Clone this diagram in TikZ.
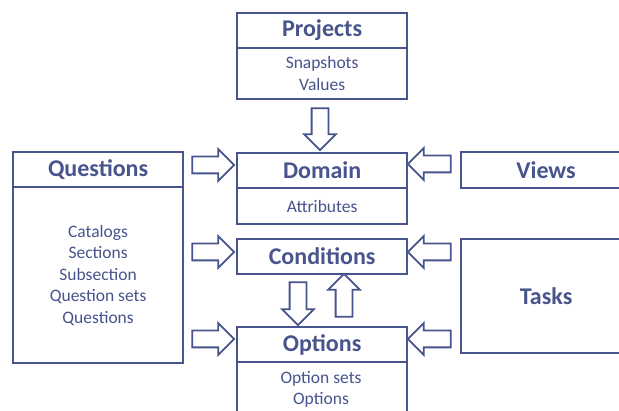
\documentclass[tikz,border=0pt]{standalone}
\usepackage{fontspec}
\setmainfont{Carlito}
\usetikzlibrary{shapes.arrows}
\definecolor{main}{RGB}{72,84,140}

\tikzset{
  box/.style={draw=main, line width=2.2pt, fill=white, text=main, inner sep=0pt,
    minimum width=170pt, anchor=north west},
  title/.style={box, font=\fontsize{24}{26}\selectfont\bfseries},
  body/.style={box, font=\fontsize{17.5}{21.5}\selectfont, align=center},
  blockarrow/.style={single arrow, draw=main, line width=1.8pt, fill=white,
    inner xsep=0pt, inner ysep=7.5pt, single arrow head extend=7.5pt,
    single arrow tip angle=90},
}

\begin{document}
\begin{tikzpicture}[x=1pt, y=-1pt]
\clip (0,0) rectangle (619,411);
\fill[white] (0,0) rectangle (619,411);

% Projects
\node[title, minimum height=35pt] (projT) at (236,12) {Projects};
\node[body, minimum height=51pt] (projB) at (236,47) {Snapshots\\Values};

% Domain
\node[title, minimum height=35pt] (domT) at (236,152) {Domain};
\node[body, minimum height=36pt] (domB) at (236,187) {Attributes};

% Conditions
\node[title, minimum height=35pt] (cond) at (236,238) {Conditions};

% Options
\node[title, minimum height=35pt] (optT) at (236,326) {Options};
\node[body, minimum height=60pt] (optB) at (236,361) {};
\node[text=main, font=\fontsize{17.5}{21}\selectfont, align=center, anchor=north]
  (optL) at (321,368) {Option sets\\Options};

% Questions
\node[title, minimum height=35pt] (qT) at (12,151) {Questions};
\node[body, minimum height=176pt] (qB) at (12,186) {Catalogs\\Sections\\Subsection\\Question sets\\Questions};

% Views and Tasks
\node[title, minimum height=36pt] (views) at (460,151) {Views};
\node[title, minimum height=114pt] (tasks) at (460,238) {Tasks};

% Block arrows
\node[blockarrow, minimum height=42pt, rotate=-90] (aPD) at (320,125) {};
\node[blockarrow, minimum height=42pt] (aQD) at (209,165) {};
\node[blockarrow, minimum height=42pt] (aQC) at (209,252) {};
\node[blockarrow, minimum height=42pt] (aQO) at (209,339) {};
\node[blockarrow, minimum height=43pt, rotate=180] (aVD) at (433.5,164) {};
\node[blockarrow, minimum height=43pt, rotate=180] (aTC) at (433.5,252) {};
\node[blockarrow, minimum height=43pt, rotate=180] (aTO) at (433.5,339) {};
\node[blockarrow, minimum height=43pt, rotate=-90] (aCO) at (298,299.5) {};
\node[blockarrow, minimum height=43pt, rotate=90] (aOC) at (344,299.5) {};
\end{tikzpicture}
\end{document}
